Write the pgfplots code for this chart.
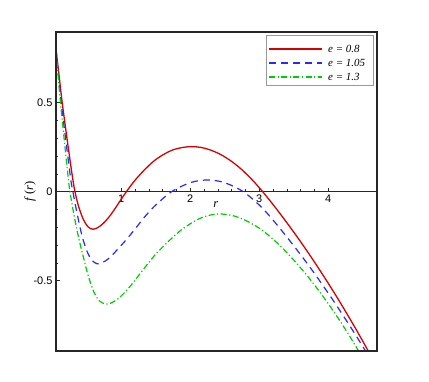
\documentclass[border=0pt]{standalone}
\usepackage{pgfplots}
\pgfplotsset{compat=1.18}
\usepackage{fontspec}
\setmainfont{Liberation Serif}
\newfontfamily\arialfont{Liberation Sans}
\definecolor{cred}{RGB}{215,0,0}
\definecolor{cblue}{RGB}{40,40,255}
\definecolor{cgreen}{RGB}{0,205,0}
\begin{document}
\begin{tikzpicture}
\path[use as bounding box] (-56bp,-31bp) rectangle (373bp,351bp);
\begin{axis}[
 name=ax, at={(0,0)}, anchor=south west,
 width=321bp, height=319bp, scale only axis,
 xmin=0.055, xmax=4.707, ymin=-0.895, ymax=0.897,
 axis x line=middle, axis y line=left,
 axis line style={-, line width=1.3bp, black!85},
 xtick={1,2,3,4}, ytick={-0.5,0,0.5},
 minor x tick num=4, minor y tick num=4,
 tick align=inside,
 major tick length=4bp, minor tick length=2.5bp,
 tick style={black!85, line width=0.6bp},
 /pgf/number format/assume math mode=true,
 tick label style={font=\arialfont\fontsize{11}{12}\selectfont},
 xlabel={\textit{r}},
 xlabel style={at={(axis description cs:0.498,0.458)}, anchor=center, font=\fontsize{12.5}{14}\selectfont},
 ylabel={\textit{f}\,(\textit{r})},
 ylabel style={at={(axis description cs:-0.081,0.5)}, anchor=center, font=\fontsize{12.5}{14}\selectfont},
]
\addplot[draw=cred, line width=1.3bp, smooth] coordinates {
(0.055,0.80) (0.10,0.65) (0.145,0.50) (0.20,0.34) (0.25,0.20) (0.30,0.066) (0.33,0.0)
(0.38,-0.08) (0.45,-0.155) (0.52,-0.198) (0.59,-0.211) (0.66,-0.202) (0.74,-0.178)
(0.84,-0.134) (0.94,-0.078) (1.075,0.0) (1.20,0.064) (1.33,0.120) (1.47,0.171)
(1.60,0.206) (1.75,0.235) (1.90,0.249) (2.02,0.253) (2.15,0.249) (2.30,0.233)
(2.45,0.207) (2.60,0.170) (2.75,0.123) (2.90,0.066) (3.05,0.0) (3.20,-0.072)
(3.35,-0.148) (3.50,-0.227) (3.65,-0.309) (3.80,-0.395) (3.95,-0.484) (4.10,-0.576)
(4.25,-0.672) (4.40,-0.771) (4.55,-0.874) (4.65,-0.944)
};
\addplot[draw=cblue, line width=1.2bp, dash pattern=on 7bp off 5bp, smooth] coordinates {
(0.055,0.80) (0.09,0.66) (0.13,0.50) (0.20,0.28) (0.27,0.066) (0.30,0.0) (0.36,-0.121)
(0.43,-0.245) (0.50,-0.330) (0.57,-0.383) (0.65,-0.405) (0.73,-0.398) (0.83,-0.372)
(0.94,-0.327) (1.07,-0.271) (1.20,-0.210) (1.33,-0.146) (1.47,-0.086) (1.60,-0.040)
(1.73,0.0) (1.90,0.035) (2.06,0.057) (2.25,0.066) (2.44,0.057) (2.60,0.035) (2.77,0.0)
(2.90,-0.040) (3.03,-0.086) (3.16,-0.141) (3.30,-0.206) (3.45,-0.279) (3.60,-0.354)
(3.75,-0.432) (3.90,-0.514) (4.05,-0.598) (4.20,-0.686) (4.35,-0.776) (4.50,-0.869)
(4.60,-0.933)
};
\addplot[draw=cgreen, line width=1.2bp, dash pattern=on 6bp off 2.5bp on 1.2bp off 2.5bp, smooth] coordinates {
(0.055,0.80) (0.09,0.63) (0.12,0.50) (0.18,0.27) (0.24,0.05) (0.27,-0.03) (0.33,-0.16)
(0.39,-0.27) (0.45,-0.365) (0.52,-0.47) (0.60,-0.560) (0.68,-0.612) (0.77,-0.631)
(0.85,-0.626) (0.95,-0.603) (1.05,-0.566) (1.16,-0.517) (1.30,-0.447) (1.48,-0.360)
(1.66,-0.288) (1.88,-0.212) (2.10,-0.158) (2.25,-0.135) (2.42,-0.125) (2.60,-0.133)
(2.75,-0.152) (2.87,-0.175) (3.05,-0.218) (3.26,-0.288) (3.40,-0.342) (3.55,-0.406)
(3.70,-0.474) (3.85,-0.549) (4.00,-0.629) (4.15,-0.714) (4.30,-0.805) (4.45,-0.901)
(4.52,-0.948)
};
\end{axis}
\draw[line width=1.6bp, black!85] (ax.south west) rectangle (ax.north east);
% legend
\draw[gray!80, line width=0.7bp, fill=white] (210bp,266bp) rectangle (317bp,316bp);
\draw[cred, line width=1.3bp] (213bp,302bp) -- (266bp,302bp);
\draw[cblue, line width=1.2bp, dash pattern=on 7bp off 5bp] (213bp,288bp) -- (266bp,288bp);
\draw[cgreen, line width=1.2bp, dash pattern=on 6bp off 2.5bp on 1.2bp off 2.5bp] (213bp,274bp) -- (266bp,274bp);
\node[anchor=west, inner sep=0pt, font=\fontsize{11}{13}\selectfont] at (272bp,302bp) {\textit{e = 0.8}};
\node[anchor=west, inner sep=0pt, font=\fontsize{11}{13}\selectfont] at (272bp,288bp) {\textit{e = 1.05}};
\node[anchor=west, inner sep=0pt, font=\fontsize{11}{13}\selectfont] at (272bp,274bp) {\textit{e = 1.3}};
\end{tikzpicture}
\end{document}
